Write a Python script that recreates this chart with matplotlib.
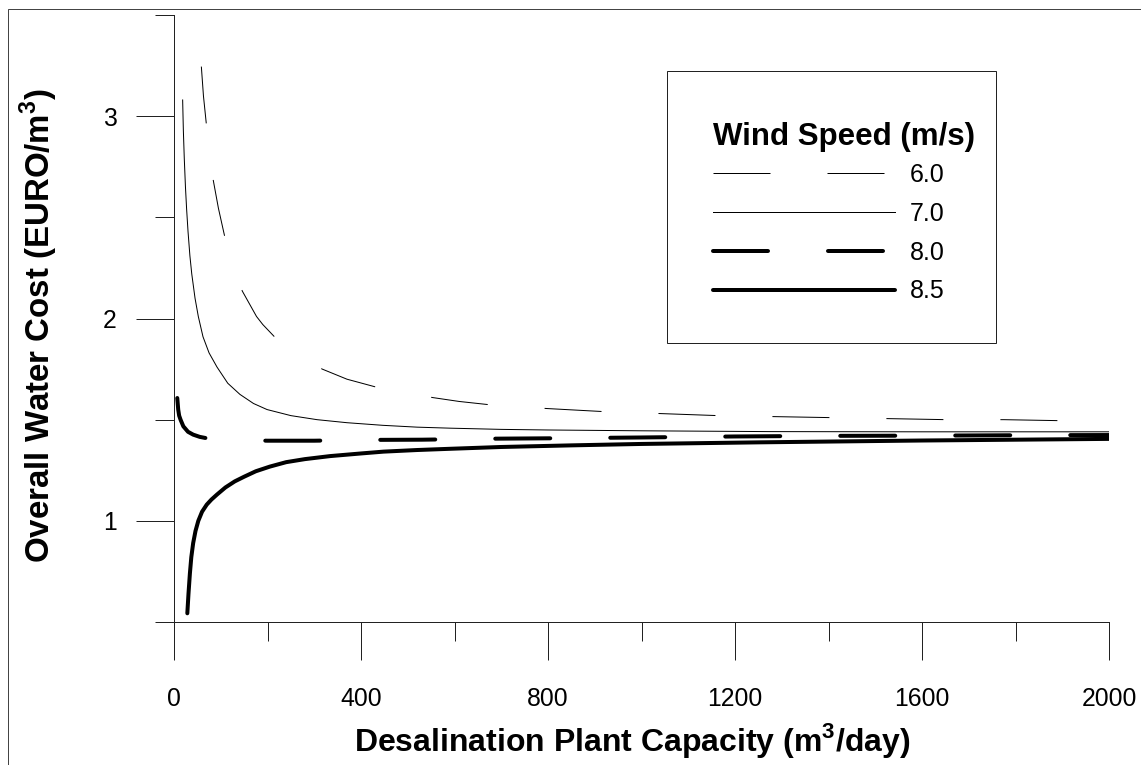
import matplotlib
matplotlib.use("Agg")
import matplotlib.pyplot as plt
from matplotlib.patches import Rectangle
from matplotlib.ticker import FixedLocator, FixedFormatter

plt.rcParams['font.family'] = ['Liberation Sans', 'DejaVu Sans']
plt.rcParams['mathtext.fontset'] = 'custom'
plt.rcParams['mathtext.rm'] = 'Liberation Sans'
plt.rcParams['mathtext.bf'] = 'Liberation Sans:bold'
plt.rcParams['lines.scale_dashes'] = False

# ---- data ----
speed_labels = ['6.0', '7.0', '8.0', '8.5']
legend_title = 'Wind Speed (m/s)'

x_60 = [58.5, 63, 69, 76, 84, 95, 108, 125, 146, 176.5, 190, 216, 260, 317, 370,
        434, 490, 554, 610, 674, 798, 918, 1042, 1164, 1286, 1408, 1532, 1653,
        1775, 1897, 2000]
y_60 = [3.245, 3.10, 2.965, 2.82, 2.683, 2.545, 2.41, 2.28, 2.136, 2.01, 1.97,
        1.907, 1.83, 1.75, 1.70, 1.66, 1.635, 1.609, 1.59, 1.574, 1.555, 1.54,
        1.53, 1.52, 1.515, 1.51, 1.505, 1.50, 1.50, 1.495, 1.49]

x_70 = [18.5, 20, 22, 24.5, 27, 30, 34, 38, 45, 52, 62, 75, 92, 115, 141, 170,
        199, 250, 306, 370, 447, 520, 590, 700, 800, 1000, 1275, 1600, 2000]
y_70 = [3.08, 2.93, 2.79, 2.65, 2.54, 2.43, 2.31, 2.22, 2.10, 2.01, 1.91, 1.83,
        1.76, 1.68, 1.625, 1.58, 1.55, 1.52, 1.50, 1.485, 1.472, 1.463, 1.458,
        1.452, 1.449, 1.445, 1.441, 1.44, 1.44]

x_80 = [7, 9, 11, 14, 20, 30, 41, 55, 77, 110, 150, 200, 300, 420, 530, 682,
        811, 1000, 1200, 1400, 1600, 1800, 2000]
y_80 = [1.607, 1.55, 1.52, 1.50, 1.467, 1.44, 1.426, 1.415, 1.405, 1.40, 1.398,
        1.396, 1.396, 1.40, 1.401, 1.406, 1.408, 1.412, 1.417, 1.42, 1.421,
        1.423, 1.424]

x_85 = [28.5, 31, 34, 37, 41, 46, 52, 60, 70, 80, 92, 110, 130, 150, 175, 205,
        240, 280, 334, 400, 448, 520, 590, 700, 850, 1000, 1254, 1600, 2000]
y_85 = [0.543, 0.64, 0.74, 0.82, 0.89, 0.95, 1.0, 1.045, 1.08, 1.105, 1.13,
        1.165, 1.195, 1.218, 1.245, 1.268, 1.29, 1.305, 1.32, 1.333, 1.342,
        1.35, 1.356, 1.365, 1.373, 1.38, 1.388, 1.397, 1.405]

x_major = [0, 400, 800, 1200, 1600, 2000]
x_minor = [200, 600, 1000, 1400, 1800]
y_major = [1, 2, 3]
y_minor = [0.5, 1.5, 2.5, 3.5]

# ---- figure ----
W, H = 1141, 765
fig = plt.figure(figsize=(W / 100, H / 100), dpi=100)
ax = fig.add_axes([174 / W, 1 - 622 / H, 935 / W, 607 / H])

px = 72 / 100  # points per pixel

thin = 1.0 * px
thick = 4.0 * px
ax.plot(x_60, y_60, color='black', lw=thin, dashes=(57 * px, 57 * px),
        dash_capstyle='butt', label=speed_labels[0])
ax.plot(x_70, y_70, color='black', lw=thin, label=speed_labels[1])
ax.plot(x_80, y_80, color='black', lw=thick, dashes=(55 * px, 60 * px),
        dash_capstyle='round', solid_capstyle='round', label=speed_labels[2])
ax.plot(x_85, y_85, color='black', lw=thick, solid_capstyle='round',
        label=speed_labels[3])

ax.set_xlim(0, 2000)
ax.set_ylim(0.5, 3.5)

for s in ['top', 'right']:
    ax.spines[s].set_visible(False)
for s in ['left', 'bottom']:
    ax.spines[s].set_color('#222222')
    ax.spines[s].set_linewidth(1.0 * px)

ax.xaxis.set_major_locator(FixedLocator(x_major))
ax.xaxis.set_major_formatter(FixedFormatter([str(v) for v in x_major]))
ax.xaxis.set_minor_locator(FixedLocator(x_minor))
ax.yaxis.set_major_locator(FixedLocator(y_major))
ax.yaxis.set_major_formatter(FixedFormatter([str(v) for v in y_major]))
ax.yaxis.set_minor_locator(FixedLocator(y_minor))

ax.tick_params(which='major', direction='out', length=38 * px, width=1.0 * px,
               color='#222222', labelsize=17.8)
ax.tick_params(which='minor', direction='out', length=19 * px, width=1.0 * px,
               color='#222222')
ax.tick_params(axis='x', which='major', pad=19.5)
ax.tick_params(axis='y', which='major', pad=14)

ax.set_xlabel(r'Desalination Plant Capacity (m$^{\mathbf{3}}$/day)',
              fontsize=23, fontweight='bold')
ax.xaxis.label.set_va('baseline')
ax.xaxis.set_label_coords(0.49, (622 - 751) / 607)

ax.set_ylabel(r'Overall Water Cost (EURO/m$^{\mathbf{3}}$)',
              fontsize=23.8, fontweight='bold')
ax.yaxis.label.set_va('baseline')
ax.yaxis.set_label_coords((50 - 174) / 935, (622 - 325.5) / 607)

# legend entries (title drawn separately so its spacing can match)
leg = ax.legend(loc='upper left', bbox_to_anchor=(713 / W, 1 - 163 / H),
                bbox_transform=fig.transFigure, borderaxespad=0,
                fontsize=18, handlelength=131 / 18, handletextpad=0.6,
                borderpad=0, labelspacing=0.59, frameon=False)
fig.text(713 / W, 1 - 144.5 / H, legend_title, fontsize=22.5,
         fontweight='bold', ha='left', va='baseline')

# legend box
fig.patches.append(Rectangle((667 / W, 1 - 343 / H), 329 / W, 272 / H,
                             transform=fig.transFigure, fill=False,
                             edgecolor='#222222', linewidth=1.0 * px, zorder=5))

# figure frame (left and top edges visible)
fig.patches.append(Rectangle((8 / W, -0.1), 1.2, 0.1 + 1 - 9 / H,
                             transform=fig.transFigure, fill=False,
                             edgecolor='#444444', linewidth=1.0 * px))

fig.savefig('out.png', dpi=100)
